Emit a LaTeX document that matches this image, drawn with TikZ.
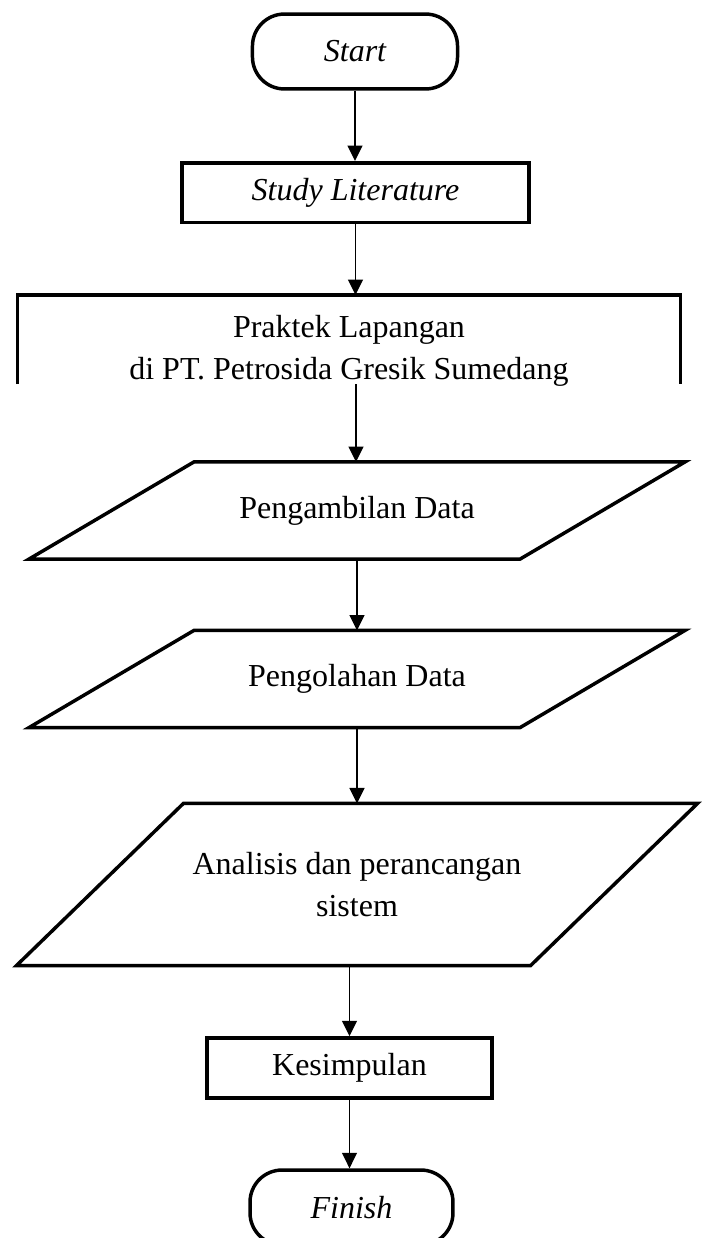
\documentclass[tikz,border=0pt]{standalone}
\usepackage{fontspec}
\setmainfont{Liberation Serif}
\usepackage{tikz}
\usetikzlibrary{shapes.geometric, positioning, arrows.meta}

\begin{document}
\begin{tikzpicture}[x=0.375pt, y=-0.375pt,
  font=\fontsize{12}{15.75}\selectfont,
  terminal/.style={draw, line width=1.3pt, rectangle, rounded corners=12pt, minimum width=76.9pt, minimum height=28.1pt, inner sep=0pt, font=\fontsize{12}{15.75}\selectfont\itshape},
  proses/.style={draw, line width=1.3pt, rectangle, minimum height=22.3pt, inner sep=0pt},
  dataio/.style={rectangle, align=center, inner sep=0pt},
  garis/.style={line width=1.3pt, line join=miter},
  panah/.style={line width=0.6pt, -{Triangle[length=5.8pt,width=5.6pt]}}]
\useasboundingbox (0,0) rectangle (702,1238);

\node[terminal] (start) at (355,51.5) {Start};
\node[proses, minimum width=130.1pt, font=\fontsize{12}{15.75}\selectfont\itshape] (study) at (355.5,192.5) {Study Literature};

% kotak praktek, sisi bawah tidak tampak
\node[align=center, anchor=north, minimum width=248.25pt, inner xsep=0pt, inner ysep=7.5pt] (praktek) at (349,295) {Praktek Lapangan\\di PT. Petrosida Gresik Sumedang};
\draw[garis] (praktek.north west) ++(0,89) -- (praktek.north west) -- (praktek.north east) -- ++(0,89);
\coordinate (praktek-bawah) at (356,384);

% jajar genjang input/output
\node[dataio, minimum width=183.75pt, minimum height=36pt] (ambil) at (357,510.5) {Pengambilan Data};
\draw[garis] ([xshift=-30.9pt]ambil.south west) -- ([xshift=30.9pt]ambil.north west) -- ([xshift=30.9pt]ambil.north east) -- ([xshift=-30.9pt]ambil.south east) -- cycle;
\node[dataio, minimum width=183.75pt, minimum height=36pt] (olah) at (357,679) {Pengolahan Data};
\draw[garis] ([xshift=-30.9pt]olah.south west) -- ([xshift=30.9pt]olah.north west) -- ([xshift=30.9pt]olah.north east) -- ([xshift=-30.9pt]olah.south east) -- cycle;
\node[dataio, minimum width=192.4pt, minimum height=60.4pt] (analisis) at (357,884.5) {Analisis dan perancangan\\sistem};
\draw[garis] ([xshift=-31.3pt]analisis.south west) -- ([xshift=31.3pt]analisis.north west) -- ([xshift=31.3pt]analisis.north east) -- ([xshift=-31.3pt]analisis.south east) -- cycle;

\node[proses, minimum width=106.9pt, minimum height=22.5pt] (simpul) at (349.5,1068) {Kesimpulan};
\node[terminal, minimum width=76.1pt] (finish) at (351.5,1207.5) {Finish};

% panah
\draw[panah] (start.south) -- (start.south |- study.north);
\draw[panah] (study.south) -- (study.south |- praktek.north);
\draw[panah] (praktek-bawah) -- (praktek-bawah |- ambil.north);
\draw[panah] (ambil.south) -- (olah.north);
\draw[panah] (olah.south) -- (analisis.north);
\draw[panah] (analisis.south -| simpul) -- (simpul.north);
\draw[panah] (simpul.south) -- (simpul.south |- finish.north);
\end{tikzpicture}
\end{document}
